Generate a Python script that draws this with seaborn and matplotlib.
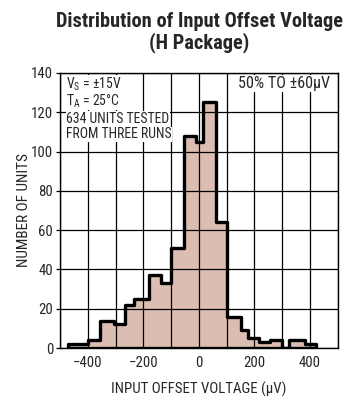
import numpy as np
import pandas as pd
import matplotlib
matplotlib.use("Agg")
import matplotlib.pyplot as plt
from matplotlib import font_manager as fm
import seaborn as sns

# bin edges (uV) and counts
bin_edges = [-470, -400, -355, -305, -265, -235, -180, -135, -100, -55, -10,
             15, 62, 100, 150, 175, 215, 255, 300, 325, 380, 420]
unit_counts = [2, 4, 14, 12, 22, 25, 37, 33, 51, 108, 105,
               125, 64, 16, 9, 5, 3, 4, 0, 4, 2]
x_ticks = [-400, -200, 0, 200, 400]
y_ticks = [0, 20, 40, 60, 80, 100, 120, 140]

sns.set_theme(style="ticks")

# a condensed face if there is one, otherwise plain Liberation Sans
avail = {f.name for f in fm.fontManager.ttflist}
narrow = [n for n in ["Liberation Sans Narrow", "Roboto Condensed",
                      "DejaVu Sans Condensed", "Open Sans Condensed"] if n in avail]
base = narrow[0] if narrow else "Liberation Sans"
plt.rcParams['font.family'] = [base, 'DejaVu Sans']
plt.rcParams['mathtext.fontset'] = 'custom'
plt.rcParams['mathtext.rm'] = base
plt.rcParams['mathtext.it'] = base

centers = [(a + b) / 2 for a, b in zip(bin_edges[:-1], bin_edges[1:])]
df = pd.DataFrame({"offset": centers, "count": unit_counts})

fig = plt.figure(figsize=(3.56, 3.98), dpi=100)
ax = fig.add_axes([0.1685, 0.1256, 0.7805, 0.691])

sns.histplot(data=df, x="offset", weights="count", bins=bin_edges,
             element="step", fill=True, color="#dcbdb1", alpha=1,
             edgecolor="black", linewidth=2.4, ax=ax)

ax.set_xlim(-500, 500)
ax.set_ylim(0, 140)
ax.set_xticks(np.arange(-500, 501, 100), minor=True)
ax.set_xticks(x_ticks)
ax.set_xticklabels([str(v).replace("-", "\u2212") for v in x_ticks])
ax.set_yticks(y_ticks)
ax.grid(True, which="both", color="black", linewidth=0.9)
ax.set_axisbelow(False)
ax.tick_params(axis="x", which="both", length=0, labelsize=11.5, pad=6)
ax.tick_params(axis="y", length=3, width=0.9, labelsize=11.5, pad=2, color="black")
for s in ax.spines.values():
    s.set_color("black")
    s.set_linewidth(1.0)
    s.set_zorder(6)

ax.set_xlabel("INPUT OFFSET VOLTAGE (\u00b5V)", fontsize=11)
ax.xaxis.label.set_va("baseline")
ax.xaxis.set_label_coords(0.5, -0.164)
ax.set_ylabel("NUMBER OF UNITS", fontsize=11)
ax.yaxis.label.set_va("center")
ax.yaxis.set_label_coords(-0.1295, 0.502)

t1 = fig.text(0.559, 0.9314, "Distribution of Input Offset Voltage",
              ha="center", va="baseline", fontsize=15, fontweight="bold")
t2 = fig.text(0.559, 0.8786, "(H Package)",
              ha="center", va="baseline", fontsize=15, fontweight="bold")

box = dict(facecolor="white", edgecolor="none", pad=0.4)
notes = ["V$_\\mathregular{S}$ = \u00b115V", "T$_\\mathregular{A}$ = 25\u00b0C",
         "634 UNITS TESTED", "FROM THREE RUNS"]
baselines = [0.942, 0.882, 0.818, 0.762]
note_txt = [ax.text(0.022, yy, txt, transform=ax.transAxes, ha="left",
                    va="baseline", fontsize=10, bbox=box)
            for txt, yy in zip(notes, baselines)]
t_right = ax.text(0.971, 0.945, "50% TO \u00b160\u00b5V", transform=ax.transAxes,
                  ha="right", va="baseline", fontsize=10, bbox=box)

# scale the texts so their widths match the reference
fig.canvas.draw()
renderer = fig.canvas.get_renderer()


def text_len(t):
    bb = t.get_window_extent(renderer)
    return max(bb.width, bb.height)


def fit(t, target, others=()):
    size = t.get_fontsize() * target / text_len(t)
    t.set_fontsize(size)
    for o in others:
        o.set_fontsize(size)
    return size


fit(t1, 288, [t2])
fit(ax.xaxis.label, 175)
fit(ax.yaxis.label, 114)
fit(note_txt[2], 104, [note_txt[0], note_txt[1], note_txt[3]])
fit(t_right, 92)

# tick labels: "140" is about 22 px wide in the reference
ylab = [t for t in ax.get_yticklabels() if t.get_text() == "140"][0]
tick_size = ylab.get_fontsize() * 22 / text_len(ylab)
ax.tick_params(axis="both", labelsize=tick_size)

fig.savefig("out.png", dpi=100)
